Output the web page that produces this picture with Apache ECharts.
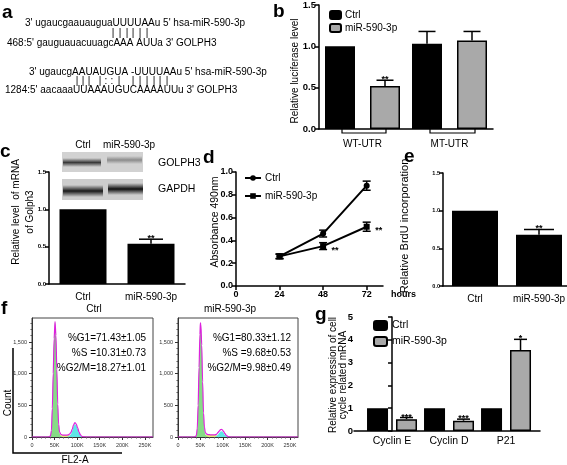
<!DOCTYPE html>
<html><head><meta charset="utf-8">
<script src="https://cdn.jsdelivr.net/npm/echarts@6/dist/echarts.min.js"></script>
<style>html,body{margin:0;padding:0;background:#fff}#c{width:567px;height:465px}</style>
</head><body><div id="c"></div>
<script>
const F = 'Liberation Sans, Arial, sans-serif';
// ---------------- data ----------------
// panel a
const aLines = [
  "3' ugaucgaauauguaUUUUAAu 5' hsa-miR-590-3p",
  "468:5' gauguauacuuagcAAA AUUa 3' GOLPH3",
  "3' ugaucgAAUAUGUA -UUUUAAu 5' hsa-miR-590-3p",
  "1284:5' aacaaaUUAAAUGUCAAAAUUu 3' GOLPH3"
];
const aPair1 = ['|','|','|','|','|','|'];
const aPair2 = ['|','|','|','|',':',':','|','|','|','|','|','|','|'];
// panel b
const bCategories = ['WT-UTR', 'MT-UTR'];
const bCtrl = [1.0, 1.03];
const bCtrlErr = [0, 0.15];
const bMiR = [0.52, 1.07];
const bMiRErr = [0.07, 0.11];
const bMiRSig = ['**', ''];
// panel c
const cCategories = ['Ctrl', 'miR-590-3p'];
const cValues = [1.0, 0.54];
const cErr = [0, 0.06];
const cSig = ['', '**'];
// panel d
const dHours = [24, 48, 72];
const dCtrl = [0.26, 0.46, 0.88];
const dCtrlErr = [0.02, 0.03, 0.04];
const dMiR = [0.26, 0.35, 0.52];
const dMiRErr = [0.02, 0.03, 0.04];
const dMiRSig = ['', '**', '**'];
const dXTicks = [0, 24, 48, 72];
// panel e
const eCategories = ['Ctrl', 'miR-590-3p'];
const eValues = [1.0, 0.68];
const eErr = [0, 0.07];
const eSig = ['', '**'];
// panel f (FL2-A in K, count)
const fXTicks = [0, 50, 100, 150, 200, 250];
const fYTicks = [0, 500, 1000, 1500];
const fCtrlG1 = [[38,0],[41,20],[43,100],[45,450],[47,1000],[49,1550],[51,1820],[53,1600],[55,1050],[57,500],[59,180],[61,60],[64,15],[67,0]];
const fCtrlS = [[50,0],[55,15],[60,25],[70,30],[80,30],[90,25],[100,15],[108,5],[114,0]];
const fCtrlG2 = [[78,0],[82,10],[86,40],[89,95],[92,165],[95,205],[98,185],[101,130],[104,70],[107,28],[110,8],[114,0]];
const fCtrlFit = [[0,0],[36,0],[39,5],[41,22],[43,102],[45,452],[47,1002],[49,1552],[51,1822],[53,1605],[55,1065],[57,520],[59,200],[61,82],[64,40],[68,30],[74,30],[80,32],[83,45],[86,68],[89,122],[92,190],[95,228],[98,205],[101,147],[104,82],[107,36],[110,12],[114,2],[120,0],[268,0]];
const fMiRG1 = [[38,0],[41,25],[43,130],[45,500],[47,1100],[49,1620],[50,1800],[51,1780],[53,1450],[55,850],[57,350],[59,120],[61,40],[64,10],[67,0]];
const fMiRS = [[50,0],[55,20],[62,32],[72,35],[82,33],[90,28],[100,18],[108,6],[114,0]];
const fMiRG2 = [[82,0],[86,12],[89,35],[92,62],[95,85],[97,92],[99,85],[102,60],[105,32],[108,12],[112,0]];
const fMiRFit = [[0,0],[36,0],[39,6],[41,27],[43,132],[45,502],[47,1102],[49,1622],[50,1802],[51,1782],[53,1452],[55,870],[57,380],[59,160],[61,70],[64,45],[68,37],[72,35],[82,33],[86,43],[89,68],[92,92],[95,115],[97,120],[99,112],[102,85],[105,52],[108,24],[112,6],[116,0],[268,0]];
const fCtrlStats = ['%G1=71.43±1.05', '%S =10.31±0.73', '%G2/M=18.27±1.01'];
const fMiRStats = ['%G1=80.33±1.12', '%S =9.68±0.53', '%G2/M=9.98±0.49'];
// panel g
const gCategories = ['Cyclin E', 'Cyclin D', 'P21'];
const gCtrl = [1, 1, 1];
const gMiR = [0.52, 0.45, 3.55];
const gMiRErr = [0.07, 0.07, 0.47];
const gMiRSig = ['***', '***', '*'];

// ---------------- helpers ----------------
const BLACK = '#000';
const GRAY = '#a9a9a9';
function yAx(gi, max, interval, size, bold, dec, margin) {
  return {type:'value', gridIndex:gi, min:0, max, interval,
    axisLine:{show:true, lineStyle:{color:BLACK, width:1.5}},
    axisTick:{show:true, length:4, lineStyle:{color:BLACK, width:1.5}},
    axisLabel:{fontSize:size, fontWeight:bold?'bold':'normal', color:BLACK, margin:margin==null?3:margin, fontFamily:F,
      formatter:v=>v.toFixed(dec)},
    splitLine:{show:false}};
}
function catAx(gi, data, size, margin) {
  return {type:'category', gridIndex:gi, data,
    axisLine:{show:true, lineStyle:{color:BLACK, width:1.5}},
    axisTick:{show:false},
    axisLabel:{fontSize:size, color:BLACK, margin:margin||8, fontFamily:F, interval:0, hideOverlap:false},
    splitLine:{show:false}};
}
function errBars(gi, xs, vals, errs, sig, offset, capW, opts) {
  opts = opts || {};
  return {type:'custom', xAxisIndex:gi, yAxisIndex:gi, z:10, silent:true,
    encode:{x:0, y:1},
    data: xs.map((x,i)=>[x, vals[i], errs[i], i]),
    renderItem(params, api) {
      const i = api.value(3), v = api.value(1), e = api.value(2), xv = api.value(0);
      const p0 = api.coord([xv, v]);
      const pt = api.coord([xv, v+e]);
      const pb = api.coord([xv, v-e]);
      const x = p0[0] + offset;
      const ls = {stroke:BLACK, lineWidth:opts.lw||1.5};
      const ch = [];
      if (e > 0) {
        ch.push({type:'line', shape:{x1:x, y1:opts.both?pb[1]:p0[1], x2:x, y2:pt[1]}, style:ls});
        ch.push({type:'line', shape:{x1:x-capW/2, y1:pt[1], x2:x+capW/2, y2:pt[1]}, style:ls});
        if (opts.both) ch.push({type:'line', shape:{x1:x-capW/2, y1:pb[1], x2:x+capW/2, y2:pb[1]}, style:ls});
      }
      const s = sig && sig[i];
      if (s) {
        const side = opts.sigDx != null;
        ch.push({type:'text', x: side ? p0[0]+opts.sigDx : x, y: side ? p0[1]+opts.sigDy : pt[1]+(opts.sigDy||0),
          style:{text:s, align:'center', verticalAlign: side?'middle':'bottom',
            font:`bold ${opts.sigSize||9}px ${F}`, fill:BLACK}});
      }
      return {type:'group', children:ch};
    }};
}
function hist(gi, arr, color, area, lw, z) {
  return {type:'line', xAxisIndex:gi, yAxisIndex:gi, data:arr, showSymbol:false, symbol:'none',
    smooth:0.3, smoothMonotone:'x', silent:true, z:z,
    lineStyle: area ? {opacity:0} : {color, width:lw},
    areaStyle: area ? {color, opacity:1} : undefined};
}
function fX(gi) {
  return {type:'value', gridIndex:gi, min:0, max:268, interval:50,
    axisLine:{show:true, lineStyle:{color:'#333', width:1}},
    axisTick:{show:true, customValues:fXTicks, length:3, lineStyle:{color:'#333'}},
    minorTick:{show:true, splitNumber:5, length:1.5, lineStyle:{color:'#555'}},
    axisLabel:{customValues:fXTicks, formatter:v=>v===0?'0':v+'K', fontSize:5.5, color:'#333', margin:5, fontFamily:F},
    splitLine:{show:false}};
}
function fY(gi) {
  return {type:'value', gridIndex:gi, min:0, max:1880, interval:500,
    axisLine:{show:true, lineStyle:{color:'#333', width:1}},
    axisTick:{show:true, customValues:fYTicks, length:3, lineStyle:{color:'#333'}},
    minorTick:{show:true, splitNumber:5, length:1.5, lineStyle:{color:'#555'}},
    axisLabel:{customValues:fYTicks, fontSize:5.5, color:'#333', margin:5, fontFamily:F},
    splitLine:{show:false}};
}
function txt(x, y, text, size, opts) {
  opts = opts || {};
  return {type:'text', x, y, rotation:opts.rot||0, silent:true,
    style:{text, align:opts.align||'left', verticalAlign:opts.va||'middle',
      font:`${opts.bold?'bold ':''}${size}px ${F}`, fill:opts.color||BLACK, lineHeight:opts.lh}};
}
function line(pts, w, color) {
  return {type:'polyline', silent:true, shape:{points:pts}, style:{stroke:color||BLACK, lineWidth:w||1, fill:null}};
}

// ---------------- chart ----------------
const chart = echarts.init(document.getElementById('c'), null, {renderer:'canvas'});
const grids = [
  {left:319, top:5, width:174, height:124},   // b
  {left:49, top:172, width:136, height:112},  // c
  {left:236, top:172, width:147, height:114}, // d
  {left:443, top:173, width:128, height:113}, // e
  {left:32, top:318, width:121, height:119},  // f left
  {left:178, top:318, width:120, height:119}, // f right
  {left:354, top:317, width:186, height:114}  // g
].map((g,i)=>Object.assign({outerBoundsMode:'none', containLabel:false}, g,
   (i===4||i===5)?{show:true, borderColor:'#444', borderWidth:1}:{}));

const xAxes = [
  catAx(0, bCategories, 10, 10),
  catAx(1, cCategories, 10),
  {type:'value', gridIndex:2, min:0, max:81, interval:24,
    axisLine:{show:true, lineStyle:{color:BLACK, width:1.5}},
    axisTick:{show:true, customValues:dXTicks, length:4, lineStyle:{color:BLACK, width:1.5}},
    axisLabel:{customValues:dXTicks, fontSize:9, fontWeight:'bold', color:BLACK, margin:4, fontFamily:F},
    splitLine:{show:false}},
  catAx(3, eCategories, 10),
  fX(4), fX(5),
  {type:'value', gridIndex:6, min:-0.667, max:2.596,
    axisLine:{show:true, lineStyle:{color:BLACK, width:1.5}},
    axisTick:{show:false},
    axisLabel:{customValues:[0,1,2], formatter:v=>gCategories[Math.round(v)], fontSize:10.5, color:BLACK, margin:5, fontFamily:F},
    splitLine:{show:false}}
];
const yAxes = [
  yAx(0, 1.5, 0.5, 9.5, true, 1),
  yAx(1, 1.5, 0.5, 6, true, 1),
  yAx(2, 1.0, 0.2, 9, true, 1),
  yAx(3, 1.5, 0.5, 5.5, true, 1),
  fY(4), fY(5),
  yAx(6, 5, 1, 9.5, true, 0, 1)
];

const series = [
  // b
  {type:'bar', name:'Ctrl', xAxisIndex:0, yAxisIndex:0, data:bCtrl, barWidth:30, barGap:'50%',
    itemStyle:{color:BLACK, borderColor:BLACK, borderWidth:1.5}},
  {type:'bar', name:'miR-590-3p', xAxisIndex:0, yAxisIndex:0, data:bMiR, barWidth:30, barGap:'50%',
    itemStyle:{color:GRAY, borderColor:BLACK, borderWidth:1.5}},
  errBars(0, [0,1], bCtrl, bCtrlErr, null, -22.5, 17),
  errBars(0, [0,1], bMiR, bMiRErr, bMiRSig, 22.5, 17, {sigDy:4}),
  // c
  {type:'bar', name:'c', xAxisIndex:1, yAxisIndex:1, data:cValues, barWidth:47, itemStyle:{color:BLACK}},
  errBars(1, [0,1], cValues, cErr, cSig, 0, 24, {sigDy:4}),
  // d
  {type:'line', name:'Ctrl ', xAxisIndex:2, yAxisIndex:2, data:dHours.map((h,i)=>[h,dCtrl[i]]),
    symbol:'circle', symbolSize:6, itemStyle:{color:BLACK}, lineStyle:{color:BLACK, width:2}, z:5},
  {type:'line', name:'miR-590-3p ', xAxisIndex:2, yAxisIndex:2, data:dHours.map((h,i)=>[h,dMiR[i]]),
    symbol:'rect', symbolSize:6, itemStyle:{color:BLACK}, lineStyle:{color:BLACK, width:2}, z:5},
  errBars(2, dHours, dCtrl, dCtrlErr, null, 0, 8, {both:true}),
  errBars(2, dHours, dMiR, dMiRErr, dMiRSig, 0, 8, {both:true, sigDx:12, sigDy:4}),
  // e
  {type:'bar', name:'e', xAxisIndex:3, yAxisIndex:3, data:eValues, barWidth:46, itemStyle:{color:BLACK}},
  errBars(3, [0,1], eValues, eErr, eSig, 0, 30, {sigDy:4}),
  // f left
  hist(4, fCtrlS, '#e8e878', true, 0, 2),
  hist(4, fCtrlG1, '#86dc86', true, 0, 3),
  hist(4, fCtrlG2, '#5ee6e6', true, 0, 3),
  hist(4, fCtrlFit, '#dd22dd', false, 1.2, 4),
  // f right
  hist(5, fMiRS, '#e8e878', true, 0, 2),
  hist(5, fMiRG1, '#86dc86', true, 0, 3),
  hist(5, fMiRG2, '#5ee6e6', true, 0, 3),
  hist(5, fMiRFit, '#dd22dd', false, 1.2, 4),
  // g
  {type:'bar', name:'Ctrl  ', xAxisIndex:6, yAxisIndex:6, data:gCtrl.map((v,i)=>[i,v]), barWidth:21, barGap:'38%',
    itemStyle:{color:BLACK, borderColor:BLACK, borderWidth:1.5}},
  {type:'bar', name:'miR-590-3p  ', xAxisIndex:6, yAxisIndex:6, data:gMiR.map((v,i)=>[i,v]), barWidth:21, barGap:'38%',
    itemStyle:{color:GRAY, borderColor:BLACK, borderWidth:1.5}},
  errBars(6, [0,1,2], gMiR, gMiRErr, gMiRSig, 14.5, 13, {sigDy:4})
];

const legendBase = {orient:'vertical', formatter:n=>n.trim(), selectedMode:false,
  textStyle:{fontSize:10, color:BLACK, fontFamily:F, padding:[0,0,0,-1]}, padding:0};
const legends = [
  Object.assign({}, legendBase, {left:329, top:10, data:['Ctrl','miR-590-3p'], itemWidth:11, itemHeight:8, itemGap:3}),
  Object.assign({}, legendBase, {left:244, top:173, data:['Ctrl ','miR-590-3p '], itemWidth:16, itemHeight:7, itemGap:8}),
  Object.assign({}, legendBase, {left:373, top:320, data:['Ctrl  ','miR-590-3p  '], itemWidth:13, itemHeight:9, itemGap:5,
    textStyle:{fontSize:10.5, color:BLACK, fontFamily:F}})
];

// graphics (decorations / text)
const gr = [];
[['a',2,13],['b',273,12],['c',0,152],['d',203,158],['e',404,157],['f',1,309],['g',315,315]].forEach(l=>{
  gr.push(txt(l[1], l[2], l[0], 19, {bold:true}));
});
gr.push(txt(25, 23, aLines[0], 10));
gr.push(txt(7, 43, aLines[1], 10));
gr.push(txt(29, 72, aLines[2], 10));
gr.push(txt(5, 90, aLines[3], 10));
const p1x = [113,120,127,133,140,147];
aPair1.forEach((s,i)=>gr.push(txt(p1x[i], 33, s, 10, {align:'center'})));
const p2x = [77,83,89,100,106,112,119,133,140,147,154,160,167];
aPair2.forEach((s,i)=>gr.push(txt(p2x[i], 81, s, 10, {align:'center'})));
gr.push(line([[342,129],[342,133],[386,133],[386,129]], 1.2));
gr.push(line([[430,129],[430,133],[475,133],[475,129]], 1.2));
gr.push(txt(295, 71, 'Relative luciferase level', 10, {align:'center', rot:Math.PI/2}));
gr.push(txt(23, 212, 'Relative level  of mRNA\nof Golph3', 10, {align:'center', rot:Math.PI/2, lh:14}));
gr.push(txt(215, 222, 'Absorbance 490nm', 10.5, {align:'center', rot:Math.PI/2}));
gr.push(txt(405, 226, 'Relative BrdU incorporation', 11, {align:'center', rot:Math.PI/2}));
gr.push(txt(338, 375, 'Relative expression of cell\ncycle related mRNA', 10, {align:'center', rot:Math.PI/2, lh:9.5}));
gr.push(txt(391, 295, 'hours', 9, {bold:true}));
const blotBand = (x,y,w,h,c,a)=>({type:'rect', silent:true, shape:{x,y,width:w,height:h},
  style:{fill:new echarts.graphic.LinearGradient(0,0,0,1,[
    {offset:0,color:`rgba(${c},${c},${c},0)`},{offset:0.5,color:`rgba(${c},${c},${c},${a})`},{offset:1,color:`rgba(${c},${c},${c},0)`}])}});
gr.push({type:'rect', silent:true, shape:{x:62,y:152,width:81,height:20}, style:{fill:'#d2d2d2'}});
gr.push({type:'rect', silent:true, shape:{x:62,y:179,width:81,height:21}, style:{fill:'#cdcdcd'}});
gr.push(blotBand(63,158,38,9,50,0.95));
gr.push(blotBand(107,156,35,8,110,0.7));
gr.push(blotBand(63,185,40,12,25,1));
gr.push(blotBand(108,183,35,12,15,1));
gr.push(txt(83, 145, 'Ctrl', 10, {align:'center'}));
gr.push(txt(129, 145, 'miR-590-3p', 10, {align:'center'}));
gr.push(txt(158, 163, 'GOLPH3', 10.5));
gr.push(txt(158, 189, 'GAPDH', 10.5));
gr.push(txt(94, 309, 'Ctrl', 10, {align:'center'}));
gr.push(txt(230, 309, 'miR-590-3p', 10, {align:'center'}));
fCtrlStats.forEach((s,i)=>gr.push(txt(146, 338+15*i, s, 10, {align:'right'})));
fMiRStats.forEach((s,i)=>gr.push(txt(291, 338+15*i, s, 10, {align:'right'})));
gr.push(line([[13,348],[13,453],[122,453]], 1.5));
gr.push(txt(8, 403, 'Count', 10, {align:'center', rot:Math.PI/2}));
gr.push(txt(75, 460, 'FL2-A', 10, {align:'center'}));

chart.setOption({
  animation:false,
  backgroundColor:'#fff',
  textStyle:{fontFamily:F},
  grid:grids, xAxis:xAxes, yAxis:yAxes, series, legend:legends, graphic:gr
});
</script></body></html>
